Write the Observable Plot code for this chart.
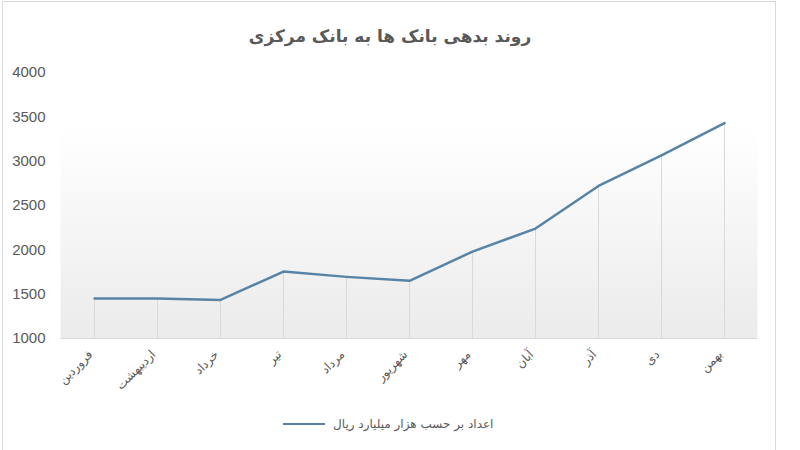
<!DOCTYPE html>
<html>
<head>
<meta charset="utf-8">
<script src="https://cdn.jsdelivr.net/npm/d3@7"></script>
<script src="https://cdn.jsdelivr.net/npm/@observablehq/plot@0.6"></script>
<style>
  html, body { margin: 0; padding: 0; background: #fff; overflow: hidden; }
  #wrap { position: relative; width: 800px; height: 450px; }
  #frame { position: absolute; left: 2px; top: 1px; width: 774px; height: 470px; border: 1px solid #d9d9d9; box-sizing: border-box; pointer-events: none; }
  #title { position: absolute; left: 0; top: 0; width: 780px; height: 60px; line-height: 73px; text-align: center; font-family: "DejaVu Sans", sans-serif; font-weight: bold; font-size: 17px; color: #595959; }
  #chart { position: absolute; left: 0; top: 60px; }
  #legend { position: absolute; left: 283px; top: 412px; height: 24px; display: flex; align-items: center; font-family: "DejaVu Sans", sans-serif; font-size: 12px; color: #595959; }
  #legend .sw { width: 42px; height: 0; border-top: 2.5px solid #5784a6; margin-right: 8px; }
</style>
</head>
<body>
<div id="wrap">
  <div id="title">روند بدهی بانک ها به بانک مرکزی</div>
  <div id="chart"></div>
  <div id="legend"><div class="sw"></div><span>اعداد بر حسب هزار میلیارد ریال</span></div>
  <div id="frame"></div>
</div>
<script>
const months = ["فروردین","اردیبهشت","خرداد","تیر","مرداد","شهریور","مهر","آبان","آذر","دی","بهمن"];
const values = [1450, 1450, 1435, 1755, 1695, 1650, 1980, 2240, 2720, 3065, 3430];
const yTicks = [1000, 1500, 2000, 2500, 3000, 3500, 4000];
const seriesName = "اعداد بر حسب هزار میلیارد ریال";

const data = months.map((m, i) => ({month: m, value: values[i]}));
const lineColor = "#5784a6";

const chart = Plot.plot({
  width: 800,
  height: 350,
  marginTop: 12,
  marginBottom: 72,
  marginLeft: 60,
  marginRight: 43,
  style: {fontFamily: "Liberation Sans, sans-serif", color: "#595959", background: "transparent"},
  x: {type: "point", domain: months, padding: 0.5, label: null},
  y: {domain: [1000, 4000], ticks: yTicks, label: null},
  marks: [
    Plot.frame({fill: "url(#plotBg)", stroke: "none"}),
    Plot.ruleX(data, {x: "month", y1: 1000, y2: "value", stroke: "#d9d9d9", strokeWidth: 1}),
    Plot.ruleY([1000], {stroke: "#d9d9d9", strokeWidth: 1}),
    Plot.line(data, {x: "month", y: "value", stroke: lineColor, strokeWidth: 2.5, strokeLinejoin: "round"}),
    Plot.axisY({ticks: yTicks, tickSize: 0, tickPadding: 15, fontSize: 15, fill: "#595959", tickFormat: d => String(d)}),
    Plot.axisX({tickSize: 0, tickRotate: -45, tickPadding: 14, dx: -4, fontSize: 12, fill: "#595959", fontFamily: "DejaVu Sans, sans-serif"})
  ]
});

const ns = "http://www.w3.org/2000/svg";
const defs = document.createElementNS(ns, "defs");
defs.innerHTML = '<linearGradient id="plotBg" x1="0" y1="0" x2="0" y2="1">' +
  '<stop offset="0.2" stop-color="#ffffff"/>' +
  '<stop offset="1" stop-color="#ebebeb"/></linearGradient>';
chart.insertBefore(defs, chart.firstChild);
document.getElementById("chart").appendChild(chart);
</script>
</body>
</html>
